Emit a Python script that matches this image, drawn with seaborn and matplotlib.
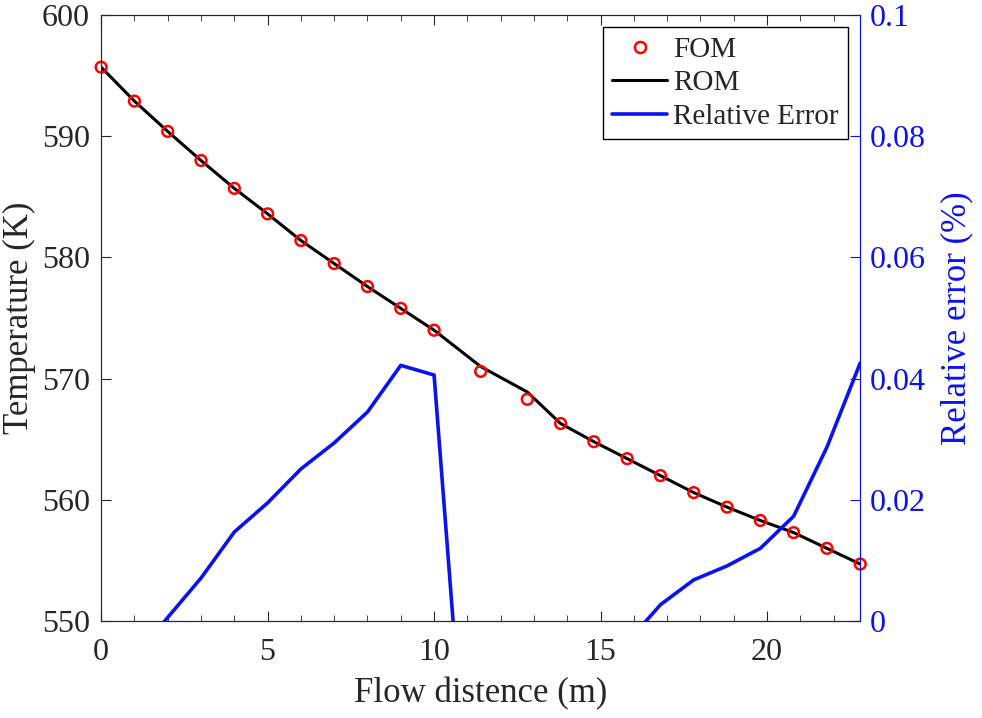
import matplotlib
matplotlib.use("Agg")
import matplotlib.pyplot as plt
from matplotlib.lines import Line2D
from matplotlib.ticker import MultipleLocator
import numpy as np
import pandas as pd
import seaborn as sns

# data
dist = [0, 1, 2, 3, 4, 5, 6, 7, 8, 9, 10, 11.4, 12.8, 13.8, 14.8,
        15.8, 16.8, 17.8, 18.8, 19.8, 20.8, 21.8, 22.8]
fom = [595.7, 592.9, 590.4, 588.0, 585.7, 583.6, 581.4, 579.5, 577.6, 575.8,
       574.0, 570.6, 568.3, 566.3, 564.8, 563.4, 562.0, 560.6, 559.4, 558.3,
       557.3, 556.0, 554.7]
rom = [595.7, 592.9, 590.4, 588.0, 585.7, 583.6, 581.4, 579.5, 577.6, 575.8,
       574.0, 571.0, 568.9, 566.3, 564.8, 563.4, 562.0, 560.6, 559.4, 558.3,
       557.3, 556.0, 554.7]
# relative error (%), negative values fall below the axis limit
rel_err = [-0.010, -0.006, 0.0006, 0.0071, 0.0147, 0.0195, 0.0251, 0.0294,
           0.0345, 0.0422, 0.0406, -0.059, -0.045, -0.030, -0.015, -0.0035,
           0.0027, 0.0068, 0.0091, 0.0120, 0.0173, 0.0287, 0.0426]

temp_ticks = [550, 560, 570, 580, 590, 600]
err_ticks = [0, 0.02, 0.04, 0.06, 0.08, 0.1]
err_labels = ["0", "0.02", "0.04", "0.06", "0.08", "0.1"]

df = pd.DataFrame({"dist": dist, "fom": fom, "rom": rom, "err": rel_err})

BLUE = "#0a12f0"

sns.set_style("ticks")
plt.rcParams["font.family"] = ["Liberation Serif", "DejaVu Serif"]

fig = plt.figure(figsize=(9.82, 7.18), dpi=100)
ax = fig.add_axes([0.103, 0.135, 0.773, 0.844])
ax2 = ax.twinx()

sns.lineplot(data=df, x="dist", y="rom", ax=ax, color="black", lw=2.2)
sns.scatterplot(data=df, x="dist", y="fom", ax=ax, marker="o", s=60,
                facecolors="none", edgecolor="red", linewidth=1.8, zorder=3,
                clip_on=False)
sns.lineplot(data=df, x="dist", y="err", ax=ax2, color=BLUE, lw=2.6)

ax.set_xlim(0, 22.8)
ax.set_ylim(550, 600)
ax.set_yticks(temp_ticks)
ax.xaxis.set_major_locator(MultipleLocator(5))
ax.xaxis.set_minor_locator(MultipleLocator(1))
ax.tick_params(axis="x", which="both", direction="in", top=True,
               labelsize=23, pad=12)
ax.tick_params(axis="x", which="major", length=7)
ax.tick_params(axis="x", which="minor", length=4)
ax.tick_params(axis="y", direction="in", length=7, labelsize=23, pad=8)
ax.set_xlabel("Flow distence (m)", fontsize=25, labelpad=7.5)
ax.set_ylabel("Temperature (K)", fontsize=25, labelpad=4)

ax2.set_ylim(0, 0.1)
ax2.set_yticks(err_ticks)
ax2.set_yticklabels(err_labels)
ax2.tick_params(axis="y", direction="in", length=7, labelsize=23, pad=7,
                colors=BLUE)
ax2.set_ylabel("Relative error (%)", fontsize=25, color=BLUE, labelpad=10)
ax2.spines["right"].set_color(BLUE)

handles = [
    Line2D([], [], ls="", marker="o", mfc="none", mec="red", mew=1.8, ms=8),
    Line2D([], [], color="black", lw=2.2),
    Line2D([], [], color=BLUE, lw=2.6),
]
leg = ax2.legend(handles, ["FOM", "ROM", "Relative Error"], loc="upper right",
                 bbox_to_anchor=(1.0, 1.0), fontsize=21, frameon=True,
                 fancybox=False, edgecolor="black", framealpha=1,
                 handlelength=1.9, borderpad=0.32, labelspacing=0.24,
                 handletextpad=0.2, borderaxespad=0.42)
leg.get_frame().set_linewidth(1.0)

fig.savefig("out.png", dpi=100)
